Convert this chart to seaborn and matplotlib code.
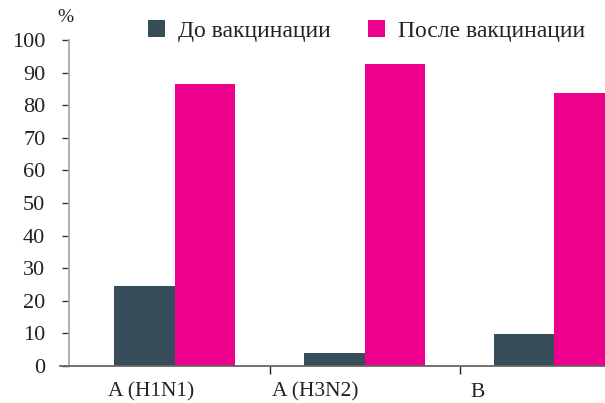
import matplotlib
matplotlib.use("Agg")
import matplotlib.pyplot as plt
import seaborn as sns
import pandas as pd

# Virus strains and share of seropositive subjects, %
strains = ["A (H1N1)", "A (H3N2)", "B"]
before = [24.5, 4.0, 9.8]
after = [86.5, 92.6, 83.7]
series_names = ["До вакцинации", "После вакцинации"]
y_ticks = [0, 10, 20, 30, 40, 50, 60, 70, 80, 90, 100]

colors = {"До вакцинации": "#374D5A", "После вакцинации": "#EC008C"}

df = pd.DataFrame({
    "strain": strains * 2,
    "value": before + after,
    "period": [series_names[0]] * len(strains) + [series_names[1]] * len(strains),
})

sns.set_theme(style="white")
plt.rcParams["font.family"] = ["Liberation Serif", "DejaVu Serif"]

fig = plt.figure(figsize=(6.05, 4.03), dpi=100)
ax = fig.add_axes([60 / 605, 37 / 403, 1 - 60 / 605 + 0.02, 326 / 403])

sns.barplot(data=df, x="strain", y="value", hue="period", palette=colors,
            width=0.637, saturation=1, linewidth=0, ax=ax, legend=True)

ax.set_xlim(-0.605, 2.33)
ax.set_ylim(0, 100)
ax.set_xlabel("")
ax.set_ylabel("")

# y axis
ax.spines["left"].set_position(("data", -0.558))
ax.spines["left"].set_color("#AAAAAA")
ax.spines["left"].set_linewidth(1.3)
ax.spines["bottom"].set_color("#666666")
ax.spines["bottom"].set_linewidth(1.3)
ax.spines["top"].set_visible(False)
ax.spines["right"].set_visible(False)
ax.set_yticks(y_ticks)
ax.tick_params(axis="y", which="major", left=True, length=5, width=1,
               color="#333333", pad=12, labelsize=16, labelcolor="#222222")

# x axis: labels plus divider marks between groups
ax.set_xticks([-0.126, 1 - 0.258, 2 - 0.405])
ax.set_xticklabels(strains)
ax.tick_params(axis="x", which="major", length=0, pad=12, labelsize=15.5,
               labelcolor="#222222")
ax.set_xticks([0.5, 1.5], minor=True)
ax.tick_params(axis="x", which="minor", bottom=True, length=6, width=1,
               color="#222222")

fig.text(57 / 605, 1 - 17 / 403, "%", fontsize=14, color="#222222",
         ha="left", va="center")

handles, labels = ax.get_legend_handles_labels()
ax.get_legend().remove()
fig.legend(handles, labels, loc="center left", bbox_to_anchor=(148 / 605, 1 - 31 / 403),
           ncol=2, frameon=False, fontsize=17, handlelength=0.7, handleheight=0.7,
           handletextpad=0.55, columnspacing=1.6, labelcolor="#222222",
           borderaxespad=0, borderpad=0)

fig.savefig("out.png", dpi=100)
